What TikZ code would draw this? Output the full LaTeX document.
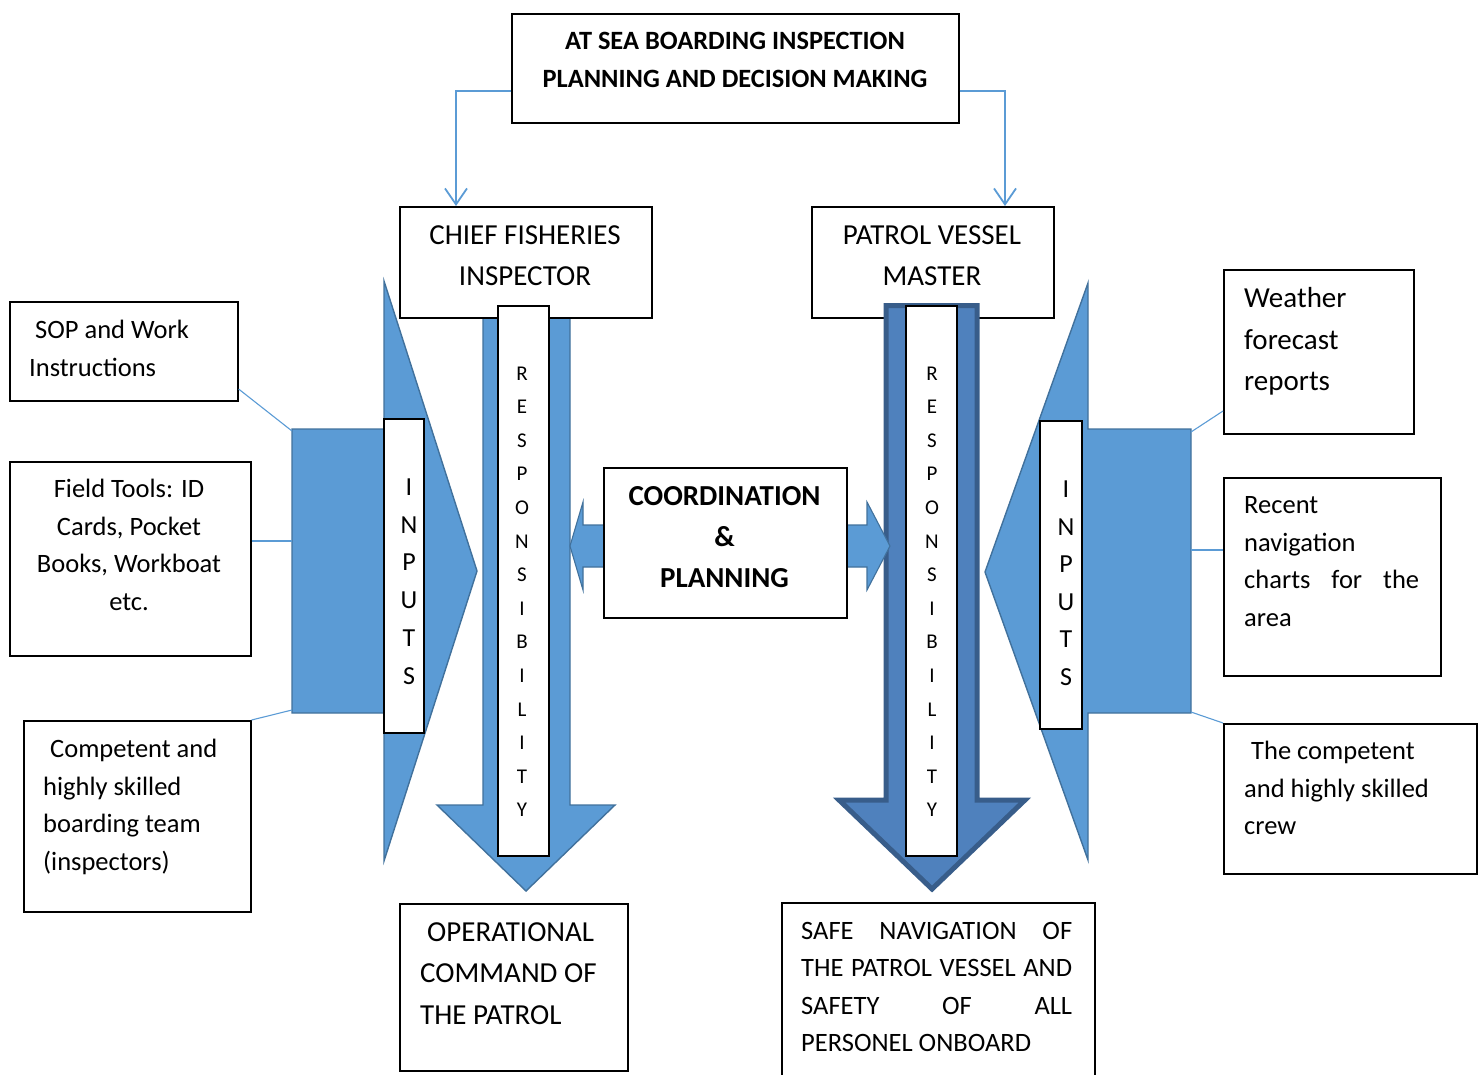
\documentclass[tikz,border=0pt]{standalone}
\usepackage{fontspec}
\setmainfont{Carlito}
\usetikzlibrary{arrows.meta}
\definecolor{sky}{HTML}{5B9BD5}
\definecolor{skyedge}{HTML}{41719C}
\definecolor{steel}{HTML}{4F81BD}
\definecolor{steeledge}{HTML}{385D8A}
\tikzset{
  frame/.style={draw=black, line width=1.6pt, fill=white, inner sep=0pt, anchor=north west},
  tA/.style={font=\fontsize{26.5}{37.6}\selectfont, inner sep=0pt},
  tB/.style={font=\fontsize{29}{41.3}\selectfont, inner sep=0pt},
  tH/.style={font=\bfseries\fontsize{26.4}{38}\selectfont, inner sep=0pt},
  tC/.style={font=\bfseries\fontsize{29}{41}\selectfont, inner sep=0pt},
  letterR/.style={font=\fontsize{21}{25}\selectfont, inner sep=0pt, anchor=base},
  letterI/.style={font=\fontsize{26}{30}\selectfont, inner sep=0pt, anchor=base},
  feed/.style={draw=sky, line width=1.8pt, -{Straight Barb[length=16pt, width=22pt, line width=1.8pt]}},
  link/.style={draw=sky, line width=1.1pt},
  lightshape/.style={fill=sky, draw=skyedge, line width=1.4pt, line join=miter},
  darkshape/.style={fill=steel, draw=steeledge, line width=5pt, line join=miter}
}
\begin{document}
\begin{tikzpicture}[x=1pt, y=-1pt]
\useasboundingbox (0,0) rectangle (1483,1074);
\clip (0,0) rectangle (1483,1074);

% input wedges on both sides
\path[lightshape] (292,429) -- (384,429) -- (384,281) -- (477,571) -- (384,861) -- (384,713) -- (292,713) -- cycle;
\path[lightshape] (1191,429) -- (1088,429) -- (1088,283) -- (985,572) -- (1088,860) -- (1088,713) -- (1191,713) -- cycle;
\coordinate (inLtop) at (292,431);
\coordinate (inLmid) at (292,541);
\coordinate (inLlow) at (292,710);
\coordinate (inRtop) at (1191,432);
\coordinate (inRmid) at (1191,550);
\coordinate (inRlow) at (1191,712);

% responsibility arrow of the inspector (behind its box)
\path[lightshape] (483,300) -- (570,300) -- (570,805) -- (615,805) -- (526,891) -- (437,805) -- (483,805) -- cycle;

% heading and the two role boxes (text nodes are anchored at the last baseline)
\node[frame, minimum width=447pt, minimum height=109pt] (head) at (511,13) {};
\node[tH, anchor=base, align=center] (headtext) at (735,87.5) {AT SEA BOARDING INSPECTION\\PLANNING AND DECISION MAKING};

\node[frame, minimum width=252pt, minimum height=111pt] (chief) at (399,206) {};
\node[tB, anchor=base, align=center] (chieftext) at (525,285.3) {CHIEF FISHERIES\\INSPECTOR};

\node[frame, minimum width=242pt, minimum height=111pt] (patrol) at (811,206) {};
\node[tB, anchor=base, align=center] (patroltext) at (932,285.3) {PATROL VESSEL\\MASTER};

% responsibility arrow of the master (over its box)
\path[darkshape] (886,305.5) -- (977,305.5) -- (977,800) -- (1025,800) -- (932,889) -- (839,800) -- (886,800) -- cycle;

% vertical label strips
\node[frame, minimum width=51pt, minimum height=550pt] (respL) at (497,305) {};
\node[frame, minimum width=51pt, minimum height=550pt] (respR) at (905,305) {};
\node[frame, minimum width=40pt, minimum height=314pt] (inpL) at (383,418) {};
\node[frame, minimum width=42pt, minimum height=308pt] (inpR) at (1039,420) {};

\foreach \c [count=\i from 0] in {R,E,S,P,O,N,S,I,B,I,L,I,T,Y} {
  \node[letterR] (rl\i) at (522, 380+33.6*\i) {\c};
  \node[letterR] (rr\i) at (932, 380+33.6*\i) {\c};
}
\foreach \c [count=\i from 0] in {I,N,P,U,T,S} {
  \node[letterI] (il\i) at (409, 495.5+37.7*\i) {\c};
  \node[letterI] (ir\i) at (1066, 497.5+37.6*\i) {\c};
}

% coordination arrows and box
\path[lightshape, line width=1.1pt] (605,525) -- (583,525) -- (583,502) -- (570,546) -- (583,590) -- (583,567) -- (605,567) -- cycle;
\path[lightshape, line width=1.1pt] (844,525) -- (867,525) -- (867,502) -- (890,546) -- (867,590) -- (867,567) -- (844,567) -- cycle;
\node[frame, minimum width=243pt, minimum height=150pt] (coord) at (603,467) {};
\node[tC, anchor=base, align=center] (coordtext) at (724.5,587) {COORDINATION\\\&\\PLANNING};

% connectors from the heading
\draw[feed] (head.west |- 0,91) -| (chief.north -| 456,0);
\draw[feed] (head.east |- 0,91) -| (patrol.north -| 1005,0);

% left input boxes
\node[frame, minimum width=228pt, minimum height=99pt] (sop) at (9,301) {};
\node[tA, anchor=base west, align=left] (soptext) at (29,376.1) {\hspace*{6pt}SOP and Work\\Instructions};
\node[frame, minimum width=241pt, minimum height=194pt] (field) at (9,461) {};
\node[tA, anchor=base, align=center] (fieldtext) at (129,610.3) {Field Tools: ID\\Cards, Pocket\\Books, Workboat\\etc.};
\node[frame, minimum width=227pt, minimum height=191pt] (team) at (23,720) {};
\node[tA, anchor=base west, align=left] (teamtext) at (43,870.3) {\hspace*{7pt}Competent and\\highly skilled\\boarding team\\(inspectors)};

% right input boxes
\node[frame, minimum width=190pt, minimum height=164pt] (weather) at (1223,269) {};
\node[tB, anchor=base west, align=left, font=\fontsize{29}{41.5}\selectfont] (weathertext) at (1244,390.5) {Weather\\forecast\\reports};
\node[frame, minimum width=217pt, minimum height=198pt] (recent) at (1223,477) {};
\node[tA, anchor=base west, align=left] (recenttext) at (1244,626.3) {Recent\\navigation\\\makebox[175pt][s]{charts for the}\\area};
\node[frame, minimum width=253pt, minimum height=150pt] (crew) at (1223,723) {};
\node[tA, anchor=base west, align=left] (crewtext) at (1244,834.7) {\hspace*{7pt}The competent\\and highly skilled\\crew};

% thin links between boxes and wedges
\draw[link] (sop.east |- 0,389) -- (inLtop);
\draw[link] (field.east |- 0,541) -- (inLmid);
\draw[link] (team.north east) -- (inLlow);
\draw[link] (weather.west |- 0,411) -- (inRtop);
\draw[link] (recent.west |- 0,550) -- (inRmid);
\draw[link] (crew.north west) -- (inRlow);

% outcome boxes
\node[frame, minimum width=228pt, minimum height=167pt] (oper) at (399,903) {};
\node[tB, anchor=base west, align=left, font=\fontsize{29}{41.5}\selectfont] (opertext) at (420,1024.3) {\hspace*{7pt}OPERATIONAL\\COMMAND OF\\THE PATROL};
\node[frame, minimum width=313pt, minimum height=190pt] (safe) at (781,902) {};
\node[tA, anchor=base west, align=left, font=\fontsize{26.5}{37.3}\selectfont] (safetext) at (801,1051.4) {\makebox[271pt][s]{SAFE NAVIGATION OF}\\\makebox[271pt][s]{THE PATROL VESSEL AND}\\\makebox[271pt][s]{SAFETY OF ALL}\\PERSONEL ONBOARD};
\end{tikzpicture}
\end{document}
